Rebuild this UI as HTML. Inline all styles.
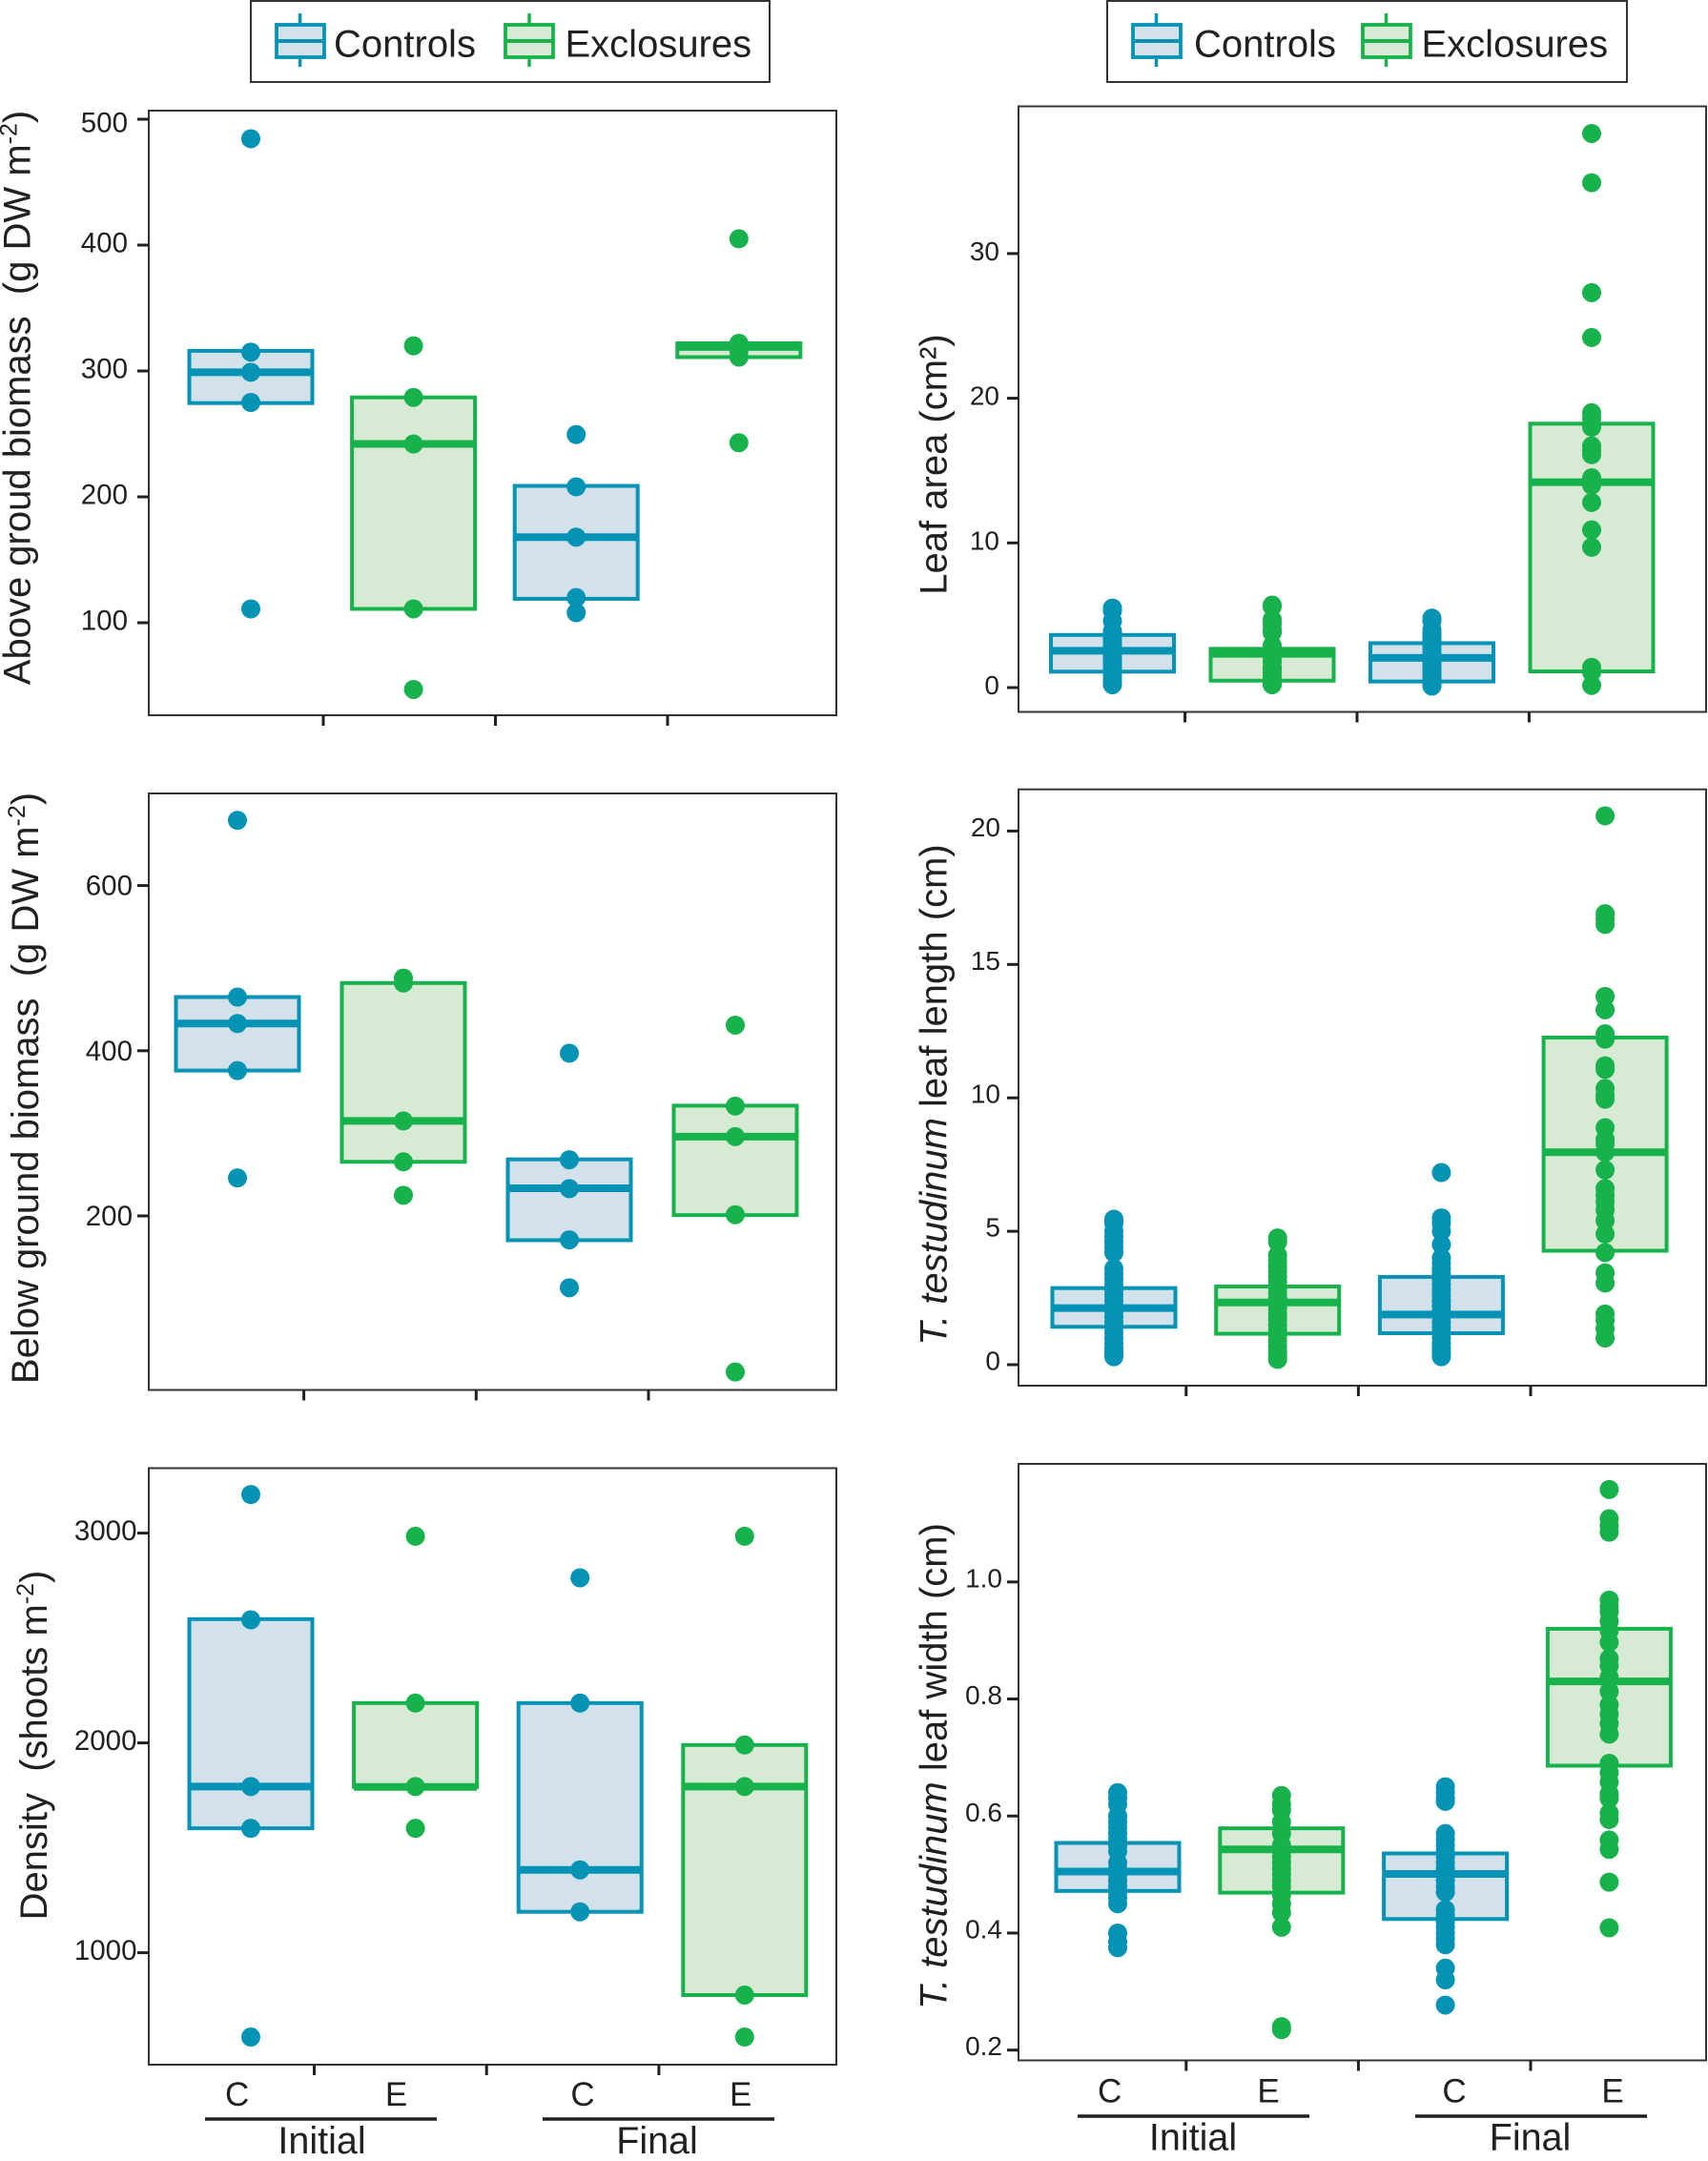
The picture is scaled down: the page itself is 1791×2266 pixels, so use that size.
<!DOCTYPE html>
<html lang="en">
<head>
<meta charset="utf-8">
<title>Biomass, density and leaf traits in controls and exclosures</title>
<style>
html,body{margin:0;padding:0;background:#fff;}
svg{display:block;font-family:"Liberation Sans",Arial,sans-serif;}
text{fill:#231f20;}
.title{font-size:40px;text-anchor:middle;}
.leg{font-size:40px;}
.cat{font-size:35px;text-anchor:middle;}
.per{font-size:39.5px;text-anchor:middle;}
</style>
</head>
<body>
<svg id="fig" xmlns="http://www.w3.org/2000/svg" width="1791" height="2266" viewBox="0 0 1791 2266">
  <rect x="0" y="0" width="1791" height="2266" fill="#fff"/>

  <g>
    <rect x="263" y="1" width="544" height="85" fill="#fff" stroke="#333" stroke-width="2"/>
    <g>
      <line x1="314.6" x2="314.6" y1="14" y2="70" stroke="#0593b5" stroke-width="3.5"/>
      <rect x="290" y="26" width="50" height="34" fill="#d3e1ea" stroke="#0593b5" stroke-width="3.8"/>
      <line x1="290" x2="340" y1="43" y2="43" stroke="#0593b5" stroke-width="4"/>
      <text class="leg" x="350" y="59.5">Controls</text>
    </g>
    <g>
      <line x1="555" x2="555" y1="14" y2="70" stroke="#17b24b" stroke-width="3.5"/>
      <rect x="530" y="26" width="50" height="34" fill="#d7ebd4" stroke="#17b24b" stroke-width="3.8"/>
      <line x1="530" x2="580" y1="43" y2="43" stroke="#17b24b" stroke-width="4"/>
      <text class="leg" x="592.5" y="59.5">Exclosures</text>
    </g>
  </g>

  <g>
    <rect x="1161" y="1" width="545" height="85" fill="#fff" stroke="#333" stroke-width="2"/>
    <g>
      <line x1="1212.5" x2="1212.5" y1="14" y2="70" stroke="#0593b5" stroke-width="3.5"/>
      <rect x="1188" y="26" width="50" height="34" fill="#d3e1ea" stroke="#0593b5" stroke-width="3.8"/>
      <line x1="1188" x2="1238" y1="43" y2="43" stroke="#0593b5" stroke-width="4"/>
      <text class="leg" x="1252" y="59.5">Controls</text>
    </g>
    <g>
      <line x1="1453.5" x2="1453.5" y1="14" y2="70" stroke="#17b24b" stroke-width="3.5"/>
      <rect x="1429" y="26" width="50" height="34" fill="#d7ebd4" stroke="#17b24b" stroke-width="3.8"/>
      <line x1="1429" x2="1479" y1="43" y2="43" stroke="#17b24b" stroke-width="4"/>
      <text class="leg" x="1490.5" y="59.5">Exclosures</text>
    </g>
  </g>

  <text class="title" transform="translate(31.5,417) rotate(-90)">Above groud biomass&#160;&#160;(g DW m<tspan font-size="25" dy="-14">-2</tspan><tspan dy="14">)</tspan></text>
  <text class="title" transform="translate(40,1141) rotate(-90)">Below ground biomass&#160;&#160;(g DW m<tspan font-size="25" dy="-14">-2</tspan><tspan dy="14">)</tspan></text>
  <text class="title" transform="translate(48.8,1830) rotate(-90)">Density&#160;&#160;(shoots m<tspan font-size="25" dy="-14">-2</tspan><tspan dy="14">)</tspan></text>
  <text class="title" transform="translate(992.6,487) rotate(-90)">Leaf area (cm²)</text>
  <text class="title" transform="translate(992.6,1148) rotate(-90)"><tspan font-style="italic">T. testudinum</tspan> leaf length (cm)</text>
  <text class="title" transform="translate(992.6,1852) rotate(-90)"><tspan font-style="italic">T. testudinum</tspan> leaf width (cm)</text>

  <g>
    <text class="cat" x="248.6" y="2208">C</text>
    <text class="cat" x="415.6" y="2208">E</text>
    <text class="cat" x="611" y="2208">C</text>
    <text class="cat" x="776.7" y="2208">E</text>
    <line x1="215" x2="458" y1="2222" y2="2222" stroke="#231f20" stroke-width="3.5"/>
    <line x1="569" x2="812" y1="2222" y2="2222" stroke="#231f20" stroke-width="3.5"/>
    <text class="per" x="337.5" y="2258">Initial</text>
    <text class="per" x="689" y="2258">Final</text>
  </g>
  <g>
    <text class="cat" x="1163.6" y="2204.5">C</text>
    <text class="cat" x="1330" y="2204.5">E</text>
    <text class="cat" x="1525" y="2204.5">C</text>
    <text class="cat" x="1691" y="2204.5">E</text>
    <line x1="1130" x2="1373" y1="2219" y2="2219" stroke="#231f20" stroke-width="3.5"/>
    <line x1="1484" x2="1727" y1="2219" y2="2219" stroke="#231f20" stroke-width="3.5"/>
    <text class="per" x="1251" y="2254.5">Initial</text>
    <text class="per" x="1604.5" y="2254.5">Final</text>
  </g>
</svg>

<script>
// ---------- shared categories ----------
const groupNames = ['initial-control', 'initial-exclosure', 'final-control', 'final-exclosure'];

// ---------- above ground biomass ----------
const aboveTicks = [100, 200, 300, 400, 500];
const aboveQ1 = [274.5, 111, 119, 311];
const aboveMedian = [299, 242, 168, 319];
const aboveQ3 = [316, 279, 208.7, 322];
const aboveInitialC = [484.5, 315, 299, 275, 111];
const aboveInitialE = [320, 279, 242, 111, 47];
const aboveFinalC = [249.5, 208, 168, 120, 108];
const aboveFinalE = [405, 322, 316, 311, 243];

// ---------- below ground biomass ----------
const belowTicks = [200, 400, 600];
const belowQ1 = [376, 265.5, 170.6, 201];
const belowMedian = [433, 315, 233.5, 296];
const belowQ3 = [465, 482, 268.5, 333.5];
const belowInitialC = [679, 465, 433, 376, 246];
const belowInitialE = [488, 482, 315, 265.5, 225];
const belowFinalC = [397, 268, 233, 171, 113];
const belowFinalE = [431, 333, 296, 201.5, 11];

// ---------- shoot density ----------
const densityTicks = [1000, 2000, 3000];
const densityQ1 = [1593, 1790, 1195, 798];
const densityMedian = [1792, 1790, 1395, 1792];
const densityQ3 = [2590, 2190, 2190, 1990];
const densityInitialC = [3184, 2587, 1792, 1593, 598];
const densityInitialE = [2985, 2190, 1792, 1593];
const densityFinalC = [2787, 2190, 1395, 1195];
const densityFinalE = [2985, 1990, 1792, 798, 598];

// ---------- leaf area ----------
const areaTicks = [0, 10, 20, 30];
const areaQ1 = [1.1, 0.48, 0.42, 1.12];
const areaMedian = [2.55, 2.33, 2.05, 14.2];
const areaQ3 = [3.64, 2.68, 3.07, 18.24];
const areaInitialC = [5.5, 5.3, 4.6, 3.9, 3.7, 3.5, 3.3, 3.1, 2.9, 2.7, 2.5, 2.3, 2.1, 1.9, 1.7, 1.5, 1.3, 1.1, 0.8, 0.6, 0.4, 0.2];
const areaInitialE = [5.7, 5.6, 4.7, 4.4, 4.0, 3.8, 2.9, 2.7, 2.5, 2.3, 2.1, 1.8, 1.4, 1.2, 1.0, 0.8, 0.5, 0.3, 0.2];
const areaFinalC = [4.8, 4.6, 4.0, 3.8, 3.6, 3.4, 3.2, 3.0, 2.8, 2.6, 2.4, 2.2, 2.0, 1.8, 1.6, 1.4, 1.2, 1.0, 0.8, 0.6, 0.4, 0.2, 0.1];
const areaFinalE = [38.3, 34.9, 27.3, 24.2, 19, 18.6, 18, 16.7, 16.4, 16.1, 14.5, 14, 12.8, 10.9, 9.7, 1.4, 1.05, 0.15];

// ---------- leaf length ----------
const lengthTicks = [0, 5, 10, 15, 20];
const lengthQ1 = [1.42, 1.16, 1.18, 4.27];
const lengthMedian = [2.12, 2.33, 1.88, 7.96];
const lengthQ3 = [2.87, 2.93, 3.29, 12.26];
const lengthInitialC = [5.45, 5.3, 5.0, 4.8, 4.6, 4.4, 4.2, 3.6, 3.4, 3.2, 3.0, 2.8, 2.6, 2.4, 2.2, 2.0, 1.8, 1.6, 1.4, 1.2, 1.0, 0.8, 0.6, 0.45, 0.3];
const lengthInitialE = [4.75, 4.6, 4.1, 3.9, 3.7, 3.5, 3.3, 3.1, 2.9, 2.7, 2.5, 2.3, 2.1, 1.9, 1.7, 1.5, 1.3, 1.1, 0.9, 0.7, 0.5, 0.35, 0.2];
const lengthFinalC = [7.2, 5.5, 5.3, 5.0, 4.5, 4.0, 3.8, 3.6, 3.4, 3.2, 3.0, 2.8, 2.6, 2.4, 2.2, 2.0, 1.8, 1.6, 1.4, 1.2, 1.0, 0.8, 0.6, 0.45, 0.3];
const lengthFinalE = [20.57, 16.9, 16.7, 16.5, 13.8, 13.3, 12.4, 12.2, 11.2, 11.07, 10.35, 10.1, 9.95, 8.88, 8.44, 8.28, 7.96, 7.3, 6.6, 6.36, 6.1, 5.8, 5.4, 4.9, 4.2, 3.44, 3.06, 1.9, 1.66, 1.34, 1.0];

// ---------- leaf width ----------
const widthTicks = [0.2, 0.4, 0.6, 0.8, 1.0];
const widthTickLabels = ['0.2', '0.4', '0.6', '0.8', '1.0'];
const widthQ1 = [0.472, 0.469, 0.424, 0.686];
const widthMedian = [0.505, 0.543, 0.501, 0.83];
const widthQ3 = [0.554, 0.579, 0.536, 0.92];
const widthInitialC = [0.64, 0.63, 0.62, 0.6, 0.59, 0.58, 0.57, 0.56, 0.55, 0.54, 0.52, 0.51, 0.5, 0.49, 0.48, 0.47, 0.46, 0.45, 0.4, 0.385, 0.375];
const widthInitialE = [0.635, 0.62, 0.61, 0.59, 0.57, 0.55, 0.54, 0.53, 0.52, 0.51, 0.5, 0.49, 0.48, 0.465, 0.45, 0.435, 0.41, 0.24, 0.235];
const widthFinalC = [0.65, 0.64, 0.63, 0.625, 0.57, 0.56, 0.55, 0.54, 0.53, 0.52, 0.51, 0.5, 0.49, 0.48, 0.47, 0.44, 0.43, 0.42, 0.41, 0.4, 0.39, 0.38, 0.34, 0.32, 0.277];
const widthFinalE = [1.158, 1.108, 1.096, 1.085, 0.969, 0.958, 0.949, 0.933, 0.917, 0.897, 0.869, 0.857, 0.837, 0.813, 0.79, 0.774, 0.758, 0.74, 0.69, 0.674, 0.658, 0.638, 0.63, 0.605, 0.594, 0.559, 0.543, 0.487, 0.409];

const NS = 'http://www.w3.org/2000/svg';
const fig = document.getElementById('fig');
const strokeColors = ['#0593b5', '#17b24b', '#0593b5', '#17b24b'];
const fillColors = ['#d3e1ea', '#d7ebd4', '#d3e1ea', '#d7ebd4'];

function svgEl(tag, parent) {
  const el = document.createElementNS(NS, tag);
  parent.appendChild(el);
  return el;
}

function drawPanel(cfg) {
  const g = svgEl('g', fig);
  
  

  const plotLeft = cfg.left, plotRight = cfg.right, plotTop = cfg.top, plotBottom = cfg.bottom;
  const yScale = function (v) { return cfg.yRef + (v - cfg.vRef) * cfg.yPerUnit; };
  const xScale = function (i) { return cfg.xStart + i * cfg.xStep; };

  const frame = svgEl('rect', g);
  
  
  frame.setAttribute('x', plotLeft);
  frame.setAttribute('y', plotTop);
  frame.setAttribute('width', plotRight - plotLeft);
  frame.setAttribute('height', plotBottom - plotTop);
  frame.setAttribute('fill', '#fff');
  frame.setAttribute('stroke', '#333');
  frame.setAttribute('stroke-width', '2');

  cfg.ticks.forEach(function (t, i) {
    const tick = svgEl('line', g);
    
    
    tick.setAttribute('x1', plotLeft - 12);
    tick.setAttribute('x2', plotLeft);
    tick.setAttribute('y1', yScale(t));
    tick.setAttribute('y2', yScale(t));
    tick.setAttribute('stroke', '#231f20');
    tick.setAttribute('stroke-width', '3');

    const label = svgEl('text', g);
    
    
    label.setAttribute('x', cfg.labelRight);
    const extra = (cfg.topLabelExtra && i === cfg.ticks.length - 1) ? cfg.topLabelExtra : 0;
    label.setAttribute('y', yScale(t) + cfg.labelDrop + extra);
    label.setAttribute('text-anchor', 'end');
    label.setAttribute('font-size', cfg.labelSize);
    label.textContent = cfg.tickLabels ? cfg.tickLabels[i] : String(t);
  });

  [0, 1, 2].forEach(function (i) {
    const tick = svgEl('line', g);
    
    
    tick.setAttribute('x1', cfg.xTickStart + i * cfg.xTickStep);
    tick.setAttribute('x2', cfg.xTickStart + i * cfg.xTickStep);
    tick.setAttribute('y1', plotBottom);
    tick.setAttribute('y2', plotBottom + 11);
    tick.setAttribute('stroke', '#231f20');
    tick.setAttribute('stroke-width', '3');
  });

  groupNames.forEach(function (groupName, i) {
    const cx = xScale(i);
    const top = yScale(cfg.q3[i]);
    const bottom = yScale(cfg.q1[i]);
    const mid = yScale(cfg.median[i]);

    const box = svgEl('rect', g);
    
    
    box.setAttribute('x', cx - 64.5);
    box.setAttribute('y', top);
    box.setAttribute('width', 129);
    box.setAttribute('height', bottom - top);
    box.setAttribute('fill', fillColors[i]);
    box.setAttribute('stroke', strokeColors[i]);
    box.setAttribute('stroke-width', '4');

    const median = svgEl('line', g);
    
    
    median.setAttribute('x1', cx - 64.5);
    median.setAttribute('x2', cx + 64.5);
    median.setAttribute('y1', mid);
    median.setAttribute('y2', mid);
    median.setAttribute('stroke', strokeColors[i]);
    median.setAttribute('stroke-width', '8');

    cfg.points[i].forEach(function (v) {
      const dot = svgEl('circle', g);
      
      
      dot.setAttribute('cx', cx);
      dot.setAttribute('cy', yScale(v));
      dot.setAttribute('r', '10');
      dot.setAttribute('fill', strokeColors[i]);
    });
  });
}

drawPanel({
  name: 'above-ground-biomass-panel', left: 156, right: 877, top: 116, bottom: 750,
  yRef: 653, vRef: 100, yPerUnit: -1.32, xStart: 263, xStep: 170.6,
  xTickStart: 339, xTickStep: 180.5, labelRight: 134, labelSize: 29.5, labelDrop: 7.5, topLabelExtra: 6,
  ticks: aboveTicks, q1: aboveQ1, median: aboveMedian, q3: aboveQ3,
  points: [aboveInitialC, aboveInitialE, aboveFinalC, aboveFinalE]
});
drawPanel({
  name: 'below-ground-biomass-panel', left: 156, right: 877, top: 832, bottom: 1457.5,
  yRef: 1275, vRef: 200, yPerUnit: -0.866, xStart: 249, xStep: 174,
  xTickStart: 318.6, xTickStep: 180.7, labelRight: 139, labelSize: 29.5, labelDrop: 10,
  ticks: belowTicks, q1: belowQ1, median: belowMedian, q3: belowQ3,
  points: [belowInitialC, belowInitialE, belowFinalC, belowFinalE]
});
drawPanel({
  name: 'density-panel', left: 156, right: 877, top: 1539.5, bottom: 2165,
  yRef: 2047.6, vRef: 1000, yPerUnit: -0.22, xStart: 263, xStep: 172.6,
  xTickStart: 329.5, xTickStep: 180.7, labelRight: 143.5, labelSize: 29.5, labelDrop: 7.5,
  ticks: densityTicks, q1: densityQ1, median: densityMedian, q3: densityQ3,
  points: [densityInitialC, densityInitialE, densityFinalC, densityFinalE]
});
drawPanel({
  name: 'leaf-area-panel', left: 1068, right: 1789, top: 111.5, bottom: 746.5,
  yRef: 721, vRef: 0, yPerUnit: -15.17, xStart: 1166.5, xStep: 167.5,
  xTickStart: 1242.6, xTickStep: 180.4, labelRight: 1048, labelSize: 28, labelDrop: 7,
  ticks: areaTicks, q1: areaQ1, median: areaMedian, q3: areaQ3,
  points: [areaInitialC, areaInitialE, areaFinalC, areaFinalE]
});
drawPanel({
  name: 'leaf-length-panel', left: 1068, right: 1789, top: 827.7, bottom: 1453,
  yRef: 1431, vRef: 0, yPerUnit: -27.98, xStart: 1168, xStep: 171.7,
  xTickStart: 1243.8, xTickStep: 180.6, labelRight: 1049, labelSize: 28, labelDrop: 5.5,
  ticks: lengthTicks, q1: lengthQ1, median: lengthMedian, q3: lengthQ3,
  points: [lengthInitialC, lengthInitialE, lengthFinalC, lengthFinalE]
});
drawPanel({
  name: 'leaf-width-panel', left: 1068, right: 1789, top: 1535, bottom: 2160.5,
  yRef: 2149.7, vRef: 0.2, yPerUnit: -613.6, xStart: 1172, xStep: 171.8,
  xTickStart: 1243.8, xTickStep: 180.6, labelRight: 1051, labelSize: 28, labelDrop: 5.5,
  ticks: widthTicks, tickLabels: widthTickLabels, q1: widthQ1, median: widthMedian, q3: widthQ3,
  points: [widthInitialC, widthInitialE, widthFinalC, widthFinalE]
});
</script>
</body>
</html>
